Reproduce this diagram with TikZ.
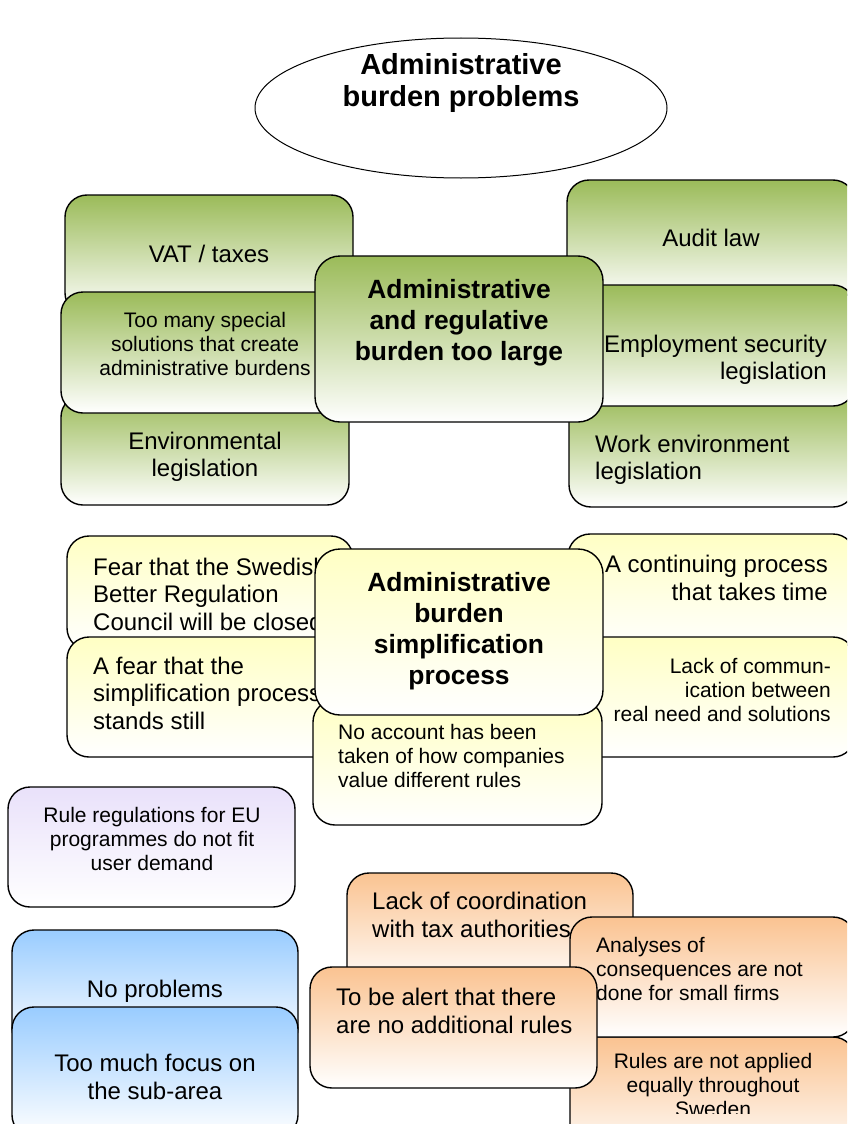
\documentclass[tikz,border=0pt]{standalone}
\usepackage{fontspec}
\setmainfont{Liberation Sans}
\usetikzlibrary{shapes.geometric,fit}

\definecolor{grn}{RGB}{155,187,89}
\definecolor{ylw}{RGB}{255,255,196}
\definecolor{lav}{RGB}{233,225,250}
\definecolor{sky}{RGB}{153,204,255}
\definecolor{peach}{RGB}{250,195,145}

\tikzset{
  card/.style={draw=black, line width=1.4pt, rounded corners=22pt, inner sep=0pt, bottom color=white},
  greencard/.style={card, top color=grn, bottom color=white},
  yellowcard/.style={card, top color=ylw, bottom color=white},
  lavcard/.style={card, top color=lav, bottom color=white},
  bluecard/.style={card, top color=sky, bottom color=white},
  orangecard/.style={card, top color=peach, bottom color=white},
  txt/.style={inner sep=0pt, font=\fontsize{24}{27.5}\selectfont},
  txtsm/.style={inner sep=0pt, font=\fontsize{21}{24.3}\selectfont},
  txthead/.style={inner sep=0pt, align=center, font=\bfseries\fontsize{26.4}{31}\selectfont},
  txttitle/.style={inner sep=0pt, align=center, font=\bfseries\fontsize{29}{31.5}\selectfont},
}

\begin{document}
\begin{tikzpicture}[x=1pt, y=-1pt]
\useasboundingbox (0,0) rectangle (847,1124);
\clip (0,0) rectangle (847,1124);

% title ellipse
\node[ellipse, draw=black, line width=1pt, fill=white, minimum width=412, minimum height=140, inner sep=0pt] (problems) at (461,108) {};
\node[txttitle] (problemstext) at (461,83) {Administrative\\burden problems};

% regulatory burden cluster
\node[greencard, fit={(65,195)(353,315)}] (vat) {};
\node[txt] (vattext) at (209,254) {VAT / taxes};
\node[greencard, fit={(61,395)(349,505)}] (env) {};
\node[txt, align=center] (envtext) at (205,457) {Environmental\\legislation};
\node[greencard, fit={(61,292)(349,413)}] (special) {};
\node[txtsm, align=center] (specialtext) at (205,344) {Too many special\\solutions that create\\administrative burdens};

\node[greencard, fit={(567,180)(855,300)}] (audit) {};
\node[txt] (audittext) at (711,238) {Audit law};
\node[greencard, fit={(569,395)(855,507)}] (workenv) {};
\node[txt, align=left, anchor=west] (workenvtext) at (595,460) {Work environment\\legislation};
\node[greencard, fit={(567,285)(855,406)}] (employ) {};
\node[txt, align=right, anchor=east] (employtext) at (827,360) {Employment security\\legislation};

\node[greencard, rounded corners=25pt, fit={(315,256)(603,422)}] (regulative) {};
\node[txthead] (regulativetext) at (459,323) {Administrative\\and regulative\\burden too large};

% simplification process cluster
\node[yellowcard, fit={(67,536)(353,650)}] (council) {};
\node[txt, align=left, anchor=west] (counciltext) at (93,594) {Fear that the Swedish\\Better Regulation\\Council will be closed};
\node[yellowcard, fit={(568,534)(855,650)}] (continuing) {};
\node[txt, align=right, anchor=east] (continuingtext) at (828,578) {A continuing process\\that takes time};
\node[yellowcard, fit={(67,637)(353,757)}] (standstill) {};
\node[txt, align=left, anchor=west] (standstilltext) at (93,693) {A fear that the\\simplification process\\stands still};
\node[yellowcard, fit={(568,637)(855,757)}] (communication) {};
\node[txtsm, align=right, anchor=east] (communicationtext) at (831,690) {Lack of commun-\\ication between\\real need and solutions};
\node[yellowcard, fit={(313,700)(602,825)}] (account) {};
\node[txtsm, align=left, anchor=west] (accounttext) at (338,756) {No account has been\\taken of how companies\\value different rules};

\node[yellowcard, rounded corners=25pt, fit={(315,549)(603,715)}] (simplification) {};
\node[txthead] (simplificationtext) at (459,631) {Administrative\\burden\\simplification\\process};

% EU programmes
\node[lavcard, fit={(8,787)(295,907)}] (eu) {};
\node[txtsm, align=center] (eutext) at (152,839) {Rule regulations for EU\\programmes do not fit\\user demand};

% no problems / sub-area
\node[bluecard, fit={(12,930)(298,1050)}] (noproblems) {};
\node[txt] (noproblemstext) at (155,991) {No problems};
\node[bluecard, fit={(12,1007)(298,1137)}] (subarea) {};
\node[txt, align=center] (subareatext) at (155,1077) {Too much focus on\\the sub-area};

% rules and authorities cluster
\node[orangecard, fit={(347,873)(633,990)}] (coordination) {};
\node[txt, align=left, anchor=west] (coordinationtext) at (372,915) {Lack of coordination\\with tax authorities};
\node[orangecard, fit={(570,1037)(855,1160)}] (equally) {};
\begin{scope}
  \clip (560,1040) rectangle (860,1113);
  \node[txtsm, align=center] (equallytext) at (713,1085) {Rules are not applied\\equally throughout\\Sweden};
\end{scope}
\node[orangecard, fit={(570,917)(855,1037)}] (consequences) {};
\node[txtsm, align=left, anchor=west] (consequencestext) at (596,969) {Analyses of\\consequences are not\\done for small firms};
\node[orangecard, fit={(310,967)(597,1088)}] (alert) {};
\node[txt, align=left, anchor=west] (alerttext) at (336,1011) {To be alert that there\\are no additional rules};
\end{tikzpicture}
\end{document}
